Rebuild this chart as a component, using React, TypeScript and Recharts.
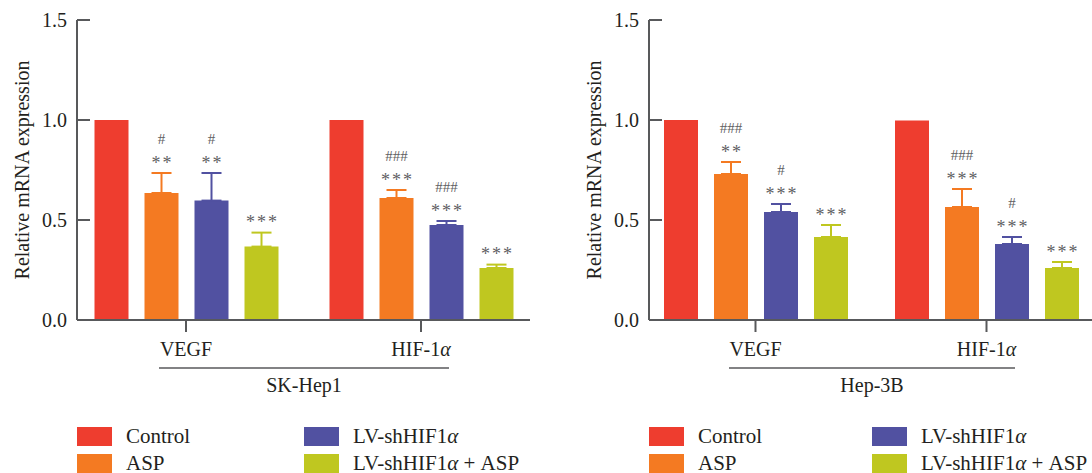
import React from 'react';
import { BarChart, Bar, XAxis, YAxis, ErrorBar, LabelList, Legend } from 'recharts';

const FONT = "'Liberation Serif', 'Times New Roman', serif";
const AXIS = '#58595b';
const INK = '#231f20';
const MARK = '#606062';

const CATEGORIES = ['VEGF', 'HIF-1α'];
const GROUPS = ['Control', 'ASP', 'LV-shHIF1α', 'LV-shHIF1α + ASP'];
const COLORS = ['#ee3d2f', '#f47a22', '#5151a1', '#bfc720'];
const Y_TICKS = [0, 0.5, 1.0, 1.5];

// SK-Hep1
const SK_CONTROL = [1.0, 1.0];
const SK_ASP = [0.635, 0.61];
const SK_LV = [0.597, 0.475];
const SK_LV_ASP = [0.367, 0.26];
const SK_ASP_SD = [0.1, 0.04];
const SK_LV_SD = [0.138, 0.02];
const SK_LV_ASP_SD = [0.07, 0.017];
const SK_ASP_STARS = ['**', '***'];
const SK_ASP_HASH = ['#', '###'];
const SK_LV_STARS = ['**', '***'];
const SK_LV_HASH = ['#', '###'];
const SK_LV_ASP_STARS = ['***', '***'];

// Hep-3B
const HEP_CONTROL = [1.0, 0.998];
const HEP_ASP = [0.73, 0.565];
const HEP_LV = [0.54, 0.38];
const HEP_LV_ASP = [0.415, 0.26];
const HEP_ASP_SD = [0.06, 0.09];
const HEP_LV_SD = [0.04, 0.035];
const HEP_LV_ASP_SD = [0.06, 0.03];
const HEP_ASP_STARS = ['**', '***'];
const HEP_ASP_HASH = ['###', '###'];
const HEP_LV_STARS = ['***', '***'];
const HEP_LV_HASH = ['#', '#'];
const HEP_LV_ASP_STARS = ['***', '***'];

type Series = {
  values: number[];
  sd?: number[];
  stars?: string[];
  hash?: string[];
};

const SK_SERIES: Series[] = [
  { values: SK_CONTROL },
  { values: SK_ASP, sd: SK_ASP_SD, stars: SK_ASP_STARS, hash: SK_ASP_HASH },
  { values: SK_LV, sd: SK_LV_SD, stars: SK_LV_STARS, hash: SK_LV_HASH },
  { values: SK_LV_ASP, sd: SK_LV_ASP_SD, stars: SK_LV_ASP_STARS },
];

const HEP_SERIES: Series[] = [
  { values: HEP_CONTROL },
  { values: HEP_ASP, sd: HEP_ASP_SD, stars: HEP_ASP_STARS, hash: HEP_ASP_HASH },
  { values: HEP_LV, sd: HEP_LV_SD, stars: HEP_LV_STARS, hash: HEP_LV_HASH },
  { values: HEP_LV_ASP, sd: HEP_LV_ASP_SD, stars: HEP_LV_ASP_STARS },
];

// split text so the greek alpha is italic
const greek = (text: string, svg: boolean) =>
  text.split(/(α)/).map((part, i) =>
    part === 'α'
      ? svg
        ? <tspan key={i} fontStyle="italic">α</tspan>
        : <span key={i} style={{ fontStyle: 'italic' }}>α</span>
      : part
  );

const YTick = (props: any) => {
  const { x, y, payload } = props;
  const ax = x + 10;
  return (
    <g>
      <line x1={ax} y1={y} x2={ax + 13} y2={y} stroke={AXIS} strokeWidth={2} />
      <text x={x} y={y} dy="0.35em" textAnchor="end" fontFamily={FONT} fontSize={20} fill={INK}>
        {Number(payload.value).toFixed(1)}
      </text>
    </g>
  );
};

const XTick = (props: any) => {
  const { x, y, payload } = props;
  return (
    <text x={x} y={y + 24} textAnchor="middle" fontFamily={FONT} fontSize={20} fill={INK}>
      {greek(String(payload.value), true)}
    </text>
  );
};

const YLabel = (props: any) => {
  const vb = props.viewBox || { x: 0, y: 20, width: 77, height: 300 };
  const cx = vb.x + 22;
  const cy = vb.y + vb.height / 2;
  return (
    <text
      x={cx}
      y={cy}
      transform={`rotate(-90, ${cx}, ${cy})`}
      textAnchor="middle"
      dominantBaseline="central"
      fontFamily={FONT}
      fontSize={20}
      fill={INK}
    >
      Relative mRNA expression
    </text>
  );
};

const GroupLabel = (props: any) => {
  const { viewBox, text, from, to } = props;
  const x1 = viewBox.x + from;
  const x2 = viewBox.x + to;
  return (
    <g>
      <line x1={x1} y1={viewBox.y + 48} x2={x2} y2={viewBox.y + 48} stroke={AXIS} strokeWidth={1.5} />
      <text x={(x1 + x2) / 2} y={viewBox.y + 72} textAnchor="middle" fontFamily={FONT} fontSize={20} fill={INK}>
        {text}
      </text>
    </g>
  );
};

const makeMarks = (s: Series) => (props: any) => {
  const vb = props.viewBox || props;
  const { index, value } = props;
  const { x, y, width, height } = vb;
  if (!value) return null;
  const perUnit = height / value;
  const top = y - (s.sd ? s.sd[index] : 0) * perUnit;
  const cx = x + width / 2;
  const stars = s.stars ? s.stars[index] : '';
  const hash = s.hash ? s.hash[index] : '';
  return (
    <g>
      {stars && (
        <text x={cx + 1} y={top - 14 + 9.5} textAnchor="middle" fontFamily={FONT} fontSize={18} letterSpacing={2} fill={MARK}>
          {stars}
        </text>
      )}
      {hash && (
        <text x={cx} y={top - 34.5 + 5} textAnchor="middle" fontFamily={FONT} fontSize={15} fill={MARK}>
          {hash}
        </text>
      )}
    </g>
  );
};

const LegendGrid = ({ colWidth }: { colWidth: number }) => (
  <div
    style={{
      display: 'grid',
      gridTemplateRows: '27px 23px',
      gridTemplateColumns: `${colWidth}px auto`,
      gridAutoFlow: 'column',
      fontFamily: FONT,
      fontSize: 21,
      lineHeight: '19px',
      color: INK,
    }}
  >
    {GROUPS.map((g, i) => (
      <div key={g} style={{ display: 'flex', alignItems: 'flex-start', paddingTop: 4, whiteSpace: 'nowrap' }}>
        <span style={{ display: 'inline-block', width: 35, height: 19, background: COLORS[i], marginRight: 14 }} />
        <span>{greek(g, false)}</span>
      </div>
    ))}
  </div>
);

type PanelProps = {
  series: Series[];
  title: string;
  from: number;
  to: number;
  padLeft: number;
  padRight: number;
  colWidth: number;
};

const Panel = ({ series, title, from, to, padLeft, padRight, colWidth }: PanelProps) => {
  const data = CATEGORIES.map((name, i) => {
    const row: any = { name };
    series.forEach((s, k) => {
      row[`v${k}`] = s.values[i];
      row[`e${k}`] = [0, s.sd ? s.sd[i] : 0];
    });
    return row;
  });

  return (
    <BarChart
      width={546}
      height={473}
      data={data}
      margin={{ top: 20, right: 16, bottom: 93, left: 0 }}
      barSize={34}
      barGap={16}
    >
      <XAxis
        dataKey="name"
        interval={0}
        height={60}
        padding={{ left: padLeft, right: padRight }}
        axisLine={{ stroke: AXIS, strokeWidth: 2 }}
        tickLine={{ stroke: AXIS, strokeWidth: 2 }}
        tickSize={12}
        tickMargin={0}
        tick={<XTick />}
        label={<GroupLabel text={title} from={from} to={to} />}
      />
      <YAxis
        width={77}
        domain={[0, 1.5]}
        ticks={Y_TICKS}
        interval={0}
        axisLine={{ stroke: AXIS, strokeWidth: 2 }}
        tickLine={false}
        tickSize={0}
        tickMargin={10}
        tick={<YTick />}
        label={<YLabel />}
      />
      {series.map((s, k) => (
        <Bar key={k} dataKey={`v${k}`} name={GROUPS[k]} fill={COLORS[k]} isAnimationActive={false}>
          {s.sd && (
            <ErrorBar dataKey={`e${k}`} width={10} strokeWidth={2} stroke={COLORS[k]} />
          )}
          {s.stars && <LabelList dataKey={`v${k}`} content={makeMarks(s)} />}
        </Bar>
      ))}
      <Legend
        layout="vertical"
        align="center"
        verticalAlign="middle"
        wrapperStyle={{ left: 77, top: 423, width: 469 }}
        content={() => <LegendGrid colWidth={colWidth} />}
      />
    </BarChart>
  );
};

export default function App() {
  return (
    <div
      style={{
        position: 'absolute',
        left: 0,
        top: 0,
        width: 1092,
        height: 473,
        overflow: 'hidden',
        background: '#fff',
      }}
    >
      <div style={{ position: 'absolute', left: 0, top: 0 }}>
        <Panel series={SK_SERIES} title="SK-Hep1" from={82} to={372} padLeft={-8.5} padRight={-8.5} colWidth={227} />
      </div>
      <div style={{ position: 'absolute', left: 572, top: 0 }}>
        <Panel series={HEP_SERIES} title="Hep-3B" from={80} to={366} padLeft={-9} padRight={0} colWidth={223} />
      </div>
    </div>
  );
}
